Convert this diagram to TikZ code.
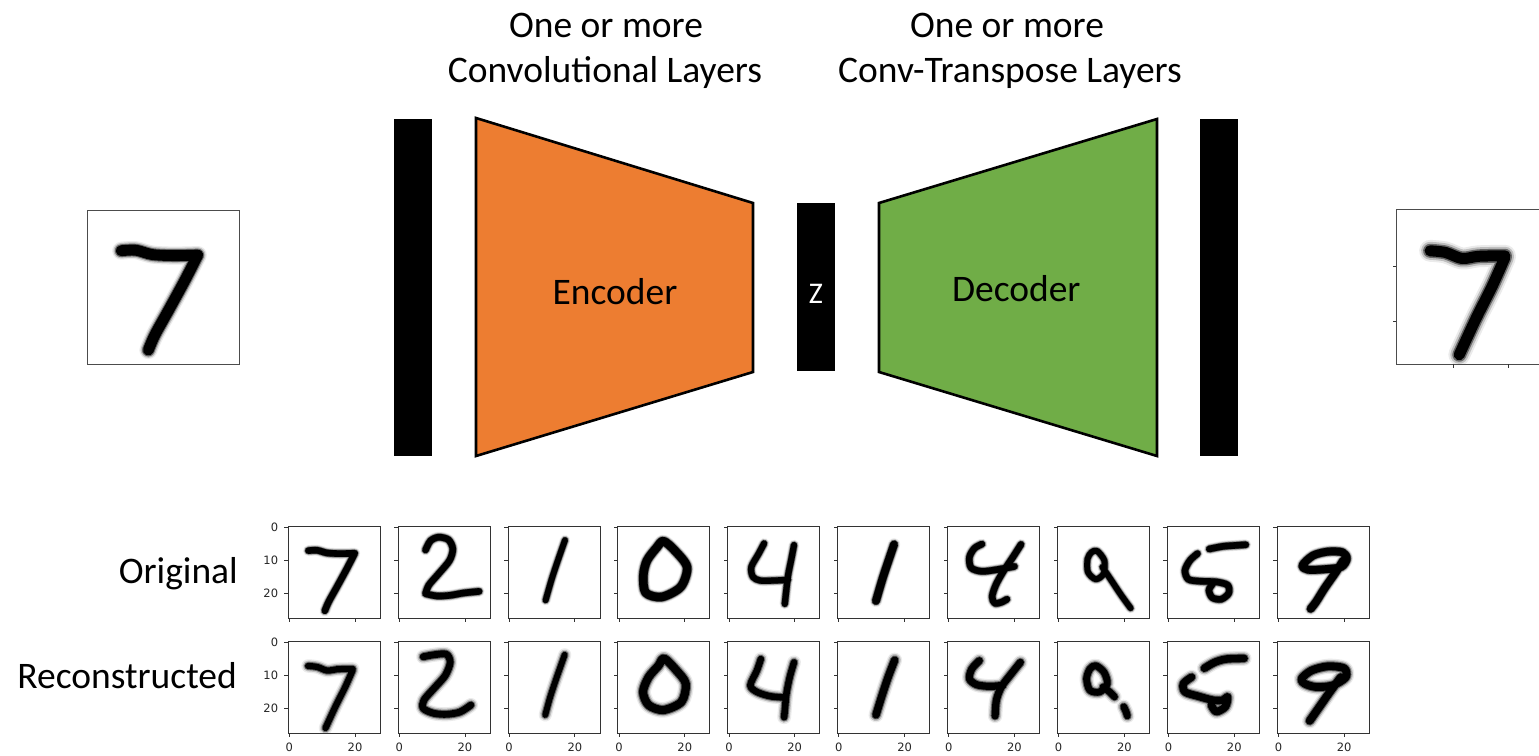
\documentclass[tikz,border=0pt]{standalone}
\usepackage{fontspec}
\setmainfont{Carlito}
\newfontfamily\tickfont{DejaVu Sans}

\definecolor{encfill}{HTML}{ED7D31}
\definecolor{decfill}{HTML}{70AD47}

\tikzset{
  lbl/.style={font=\fontsize{37.5}{45}\selectfont, inner sep=0pt, anchor=base},
  bar/.style={fill=black, draw=none, inner sep=0pt},
  block/.style={draw=black, line width=2.6pt, line join=miter},
  imgframe/.style={draw=black!70, line width=1.1pt, inner sep=0pt, anchor=north west},
  axframe/.style={draw=black!80, line width=0.9pt, inner sep=0pt, anchor=north west,
    minimum width=92pt, minimum height=92pt},
  axtick/.style={draw=black!80, line width=0.8pt},
  ticklbl/.style={font=\tickfont\fontsize{11.5}{12}\selectfont, inner sep=0pt, text=black!85},
  ink/.style={line cap=round, line join=round},
}

% #1 left, #2 top, #3 points per image pixel, #4 core width, #5 blur, #6 strokes
\newcommand\inkdigit[6]{%
  \begin{scope}[shift={(#1,#2)}, x=#3pt, y=-#3pt]
    \clip (0,0) rectangle (28,28);
    \draw[ink, black!8, line width={(#4+2.2*#5)*#3*1pt}] #6;
    \draw[ink, black!25, line width={(#4+1.4*#5)*#3*1pt}] #6;
    \draw[ink, black!60, line width={(#4+0.6*#5)*#3*1pt}] #6;
    \draw[ink, black, line width={#4*#3*1pt}] #6;
  \end{scope}}

% handwritten strokes, in image pixels (x right, y down, 0..28)
\newcommand\dgSevenO{plot[smooth] coordinates {(6.3,7.5) (9,7.4) (12,8.2) (16,8.4) (20.4,8.3)} plot[smooth] coordinates {(20.4,8.3) (18,13) (15,18.5) (12.5,23) (11.3,25.8)}}
\newcommand\dgTwoO{plot[smooth] coordinates {(8.5,7.3) (10,4.5) (12.5,3.4) (15.5,4.2) (16.8,7) (15.8,10.5) (12.5,14.5) (9.5,18) (8.5,20.6)} plot[smooth] coordinates {(8.5,20.6) (12,21.3) (16,21.1) (20,20.4) (24.8,19.9)}}
\newcommand\dgOneO{plot[smooth] coordinates {(17.5,4.3) (15.5,10) (13.5,16) (11.6,22.6)}}
\newcommand\dgZeroO{plot[smooth cycle] coordinates {(14,4.6) (17.5,7.5) (21.2,12.5) (19.3,18.5) (13.5,21.6) (8.6,20.3) (7.9,15) (9,10.5) (12,6.5)}}
\newcommand\dgFourO{plot[smooth] coordinates {(11.2,5.3) (9.5,8.5) (7.3,12.5) (7.8,15.5) (10,16.6) (14,16.6) (18.5,16.4)} plot[smooth] coordinates {(20.3,5.8) (19.5,10) (18.5,15) (17.9,20) (17.5,23.7)}}
\newcommand\dgOneOb{plot[smooth] coordinates {(17.3,5.6) (15.8,10) (13.8,16) (11.8,22.8)}}
\newcommand\dgFourOb{plot[smooth] coordinates {(10.6,5.5) (8.3,6.8) (6.8,9.5) (7.3,12.7) (10.5,13.8) (15,13.3) (20.5,12.3)} plot[smooth] coordinates {(22.5,5.6) (20,9.5) (17,14) (14.8,18) (13.7,21.5) (14.5,23.5) (16.5,23.2) (18.2,22.3)}}
\newcommand\dgNineO{plot[smooth cycle] coordinates {(12.2,7.6) (14.4,10.5) (14.2,14.5) (11.8,16.2) (9.4,14) (9.3,10) (10.5,8)} plot[smooth] coordinates {(13.8,12.5) (16.5,16.5) (19.5,21) (22.4,25)}}
\newcommand\dgFiveO{plot[smooth] coordinates {(12.9,7) (17,6.2) (21,5.9) (24,5.7)} plot[smooth] coordinates {(9.3,8.4) (7,10.5) (5.5,13.5) (6.5,16.2) (10,16.8) (15,17) (18.5,18) (18.8,20.5) (16.5,22.3) (13.8,21.8) (12.8,19.5) (14,17.5)}}
\newcommand\dgNineOb{plot[smooth cycle] coordinates {(7.8,12) (11,9) (15.5,7.8) (20,8) (21.3,10) (19.5,12.5) (14,13.2) (9.5,13.3)} plot[smooth] coordinates {(20.2,10.5) (18,14) (14.5,19) (12,23) (10.3,25.2)}}

\newcommand\dgSevenR{plot[smooth] coordinates {(6.2,7.6) (9,7.9) (12,9) (15,8.6) (19.8,8.5)} plot[smooth] coordinates {(19.8,8.8) (17.5,14) (14.5,20) (11.5,26.5)}}
\newcommand\dgTwoR{plot[smooth] coordinates {(7.8,4.8) (11,4.2) (14.8,4) (16,6.5) (14.5,10.5) (11,14.5) (8,18) (7.8,20.5) (11,22) (15,22.3) (19,21.6) (22.3,19.5)}}
\newcommand\dgOneR{plot[smooth] coordinates {(17.4,4.2) (15,11) (13,17) (11.5,22.5)}}
\newcommand\dgZeroR{plot[smooth cycle] coordinates {(14.2,5.3) (18,9) (20.8,13) (19.5,18.5) (14,21) (9.5,19.5) (7.8,15.5) (9.5,11) (12.5,7.5)}}
\newcommand\dgFourR{plot[smooth] coordinates {(10.2,5.5) (9,9) (7,13.5) (9,15.5) (13,16.8) (17.5,17.2)} plot[smooth] coordinates {(20.3,6.5) (19,11) (18,16) (17.6,20) (17.3,23.2)}}
\newcommand\dgOneRb{plot[smooth] coordinates {(17.5,5.8) (15.5,11) (13.5,17) (11.8,22.5)}}
\newcommand\dgFourRb{plot[smooth] coordinates {(9.8,6) (7.5,8.5) (6.8,11.5) (9,13.3) (13,13.8) (17,13.5)} plot[smooth] coordinates {(22.3,6.5) (19.5,10) (16.5,14) (15,18) (14.6,22.8)}}
\newcommand\dgNineR{plot[smooth cycle] coordinates {(11.8,7.5) (14.3,9.5) (15.3,13) (13,15.5) (10,15) (9,11.5) (10,8.5)} plot[smooth] coordinates {(14,14) (16,15.5) (17.5,17)} plot[smooth] coordinates {(20.3,20) (21,21.5) (21.4,22.8)}}
\newcommand\dgFiveR{plot[smooth] coordinates {(11.4,8.3) (14.5,6.5) (18,5.5) (23.5,5.3)} plot[smooth] coordinates {(7.5,11) (5,13) (5.5,15.5) (9.5,16.8) (14,18) (17,18) (18.5,17) (17.8,20) (15,21.5) (13.5,19.5)}}
\newcommand\dgNineRb{plot[smooth cycle] coordinates {(7.5,11.5) (10.5,9) (15.5,7.7) (20.5,8.3) (21,11) (17,13.5) (12,14) (8.5,13)} plot[smooth] coordinates {(19.5,11) (16.5,15) (13,20) (10,24.3)}}

\begin{document}
\begin{tikzpicture}[x=1pt, y=-1pt]
\useasboundingbox (0,0) rectangle (1539,755);
\fill[white] (0,0) rectangle (1539,755);

% ---- layer titles ----
\node[lbl] (enct1) at (606,37.7) {One or more};
\node[lbl] (enct2) at (605,82.7) {Convolutional Layers};
\node[lbl] (dect1) at (1007,37.7) {One or more};
\node[lbl] (dect2) at (1010,82.7) {Conv-Transpose Layers};

% ---- network ----
\node[bar, minimum width=38pt, minimum height=337pt] (inbar) at (413,287.5) {};
\draw[block, fill=encfill] (476,118) -- (753,203) -- (753,372) -- (476,456) -- cycle;
\node[lbl] (enc) at (615,304.3) {Encoder};
\node[bar, minimum width=38pt, minimum height=168pt] (zbar) at (816,287) {};
\node[lbl, font=\fontsize{30}{34}\selectfont, text=white] (z) at (816,303) {Z};
\draw[block, fill=decfill] (879,203) -- (1157,119) -- (1157,456) -- (879,372) -- cycle;
\node[lbl] (dec) at (1016.3,301.7) {Decoder};
\node[bar, minimum width=38pt, minimum height=337pt] (outbar) at (1219,287.5) {};

% ---- input and output images ----
\inkdigit{87}{210}{5.43}{2.0}{0.6}{\dgSevenO}
\node[imgframe, minimum width=152pt, minimum height=154pt] (inimg) at (87,210) {};
\inkdigit{1396}{209}{5.5}{2.0}{0.9}{\dgSevenR}
\node[imgframe, minimum width=160pt, minimum height=155pt] (outimg) at (1396,209) {};
\foreach \v in {10,20} {
  \draw[axtick] (1396,{209+(\v+0.5)*5.5}) -- ++(-3.5,0);
  \draw[axtick] ({1396+(\v+0.5)*5.5},364) -- ++(0,3.5);
}

% ---- row labels ----
\node[lbl, anchor=base east] (orig) at (238,583.3) {Original};
\node[lbl, anchor=base east] (recon) at (237,688.3) {Reconstructed};

% ---- sample grid: originals ----
\inkdigit{287.7}{526}{3.2857}{2.0}{0.6}{\dgSevenO}
\inkdigit{397.6}{526}{3.2857}{2.0}{0.6}{\dgTwoO}
\inkdigit{507.5}{526}{3.2857}{1.8}{0.6}{\dgOneO}
\inkdigit{617.4}{526}{3.2857}{2.6}{0.6}{\dgZeroO}
\inkdigit{727.3}{526}{3.2857}{1.9}{0.6}{\dgFourO}
\inkdigit{837.2}{526}{3.2857}{2.4}{0.6}{\dgOneOb}
\inkdigit{947.1}{526}{3.2857}{2.0}{0.6}{\dgFourOb}
\inkdigit{1057.0}{526}{3.2857}{1.8}{0.6}{\dgNineO}
\inkdigit{1166.9}{526}{3.2857}{2.0}{0.6}{\dgFiveO}
\inkdigit{1276.8}{526}{3.2857}{2.4}{0.6}{\dgNineOb}

% ---- sample grid: reconstructions ----
\inkdigit{287.7}{641}{3.2857}{1.9}{1.0}{\dgSevenR}
\inkdigit{397.6}{641}{3.2857}{2.1}{1.0}{\dgTwoR}
\inkdigit{507.5}{641}{3.2857}{1.8}{1.0}{\dgOneR}
\inkdigit{617.4}{641}{3.2857}{2.5}{1.0}{\dgZeroR}
\inkdigit{727.3}{641}{3.2857}{2.0}{1.0}{\dgFourR}
\inkdigit{837.2}{641}{3.2857}{2.3}{1.0}{\dgOneRb}
\inkdigit{947.1}{641}{3.2857}{2.2}{1.0}{\dgFourRb}
\inkdigit{1057.0}{641}{3.2857}{2.1}{1.0}{\dgNineR}
\inkdigit{1166.9}{641}{3.2857}{2.3}{1.0}{\dgFiveR}
\inkdigit{1276.8}{641}{3.2857}{2.4}{1.0}{\dgNineRb}

% ---- axes of every panel ----
\foreach \r/\T in {0/526, 1/641} {
  \foreach \k in {0,...,9} {
    \pgfmathsetmacro\px{287.7+109.9*\k}
    \node[axframe] (ax-\r-\k) at (\px,\T) {};
    \foreach \v in {0,10,20}
      \draw[axtick] (\px,{\T+(\v+0.5)*3.2857}) -- ++(-3.5,0);
    \foreach \v in {0,20}
      \draw[axtick] ({\px+(\v+0.5)*3.2857},\T+92) -- ++(0,3.5);
  }
  \foreach \v in {0,10,20}
    \node[ticklbl, anchor=east] (yl-\r-\v) at (278.3,{\T+(\v+0.5)*3.2857}) {\v};
}
\foreach \k in {0,...,9} {
  \pgfmathsetmacro\px{287.7+109.9*\k}
  \foreach \v in {0,20}
    \node[ticklbl, anchor=north] (xl-\k-\v) at ({\px+(\v+0.5)*3.2857},742.7) {\v};
}
\end{tikzpicture}
\end{document}
